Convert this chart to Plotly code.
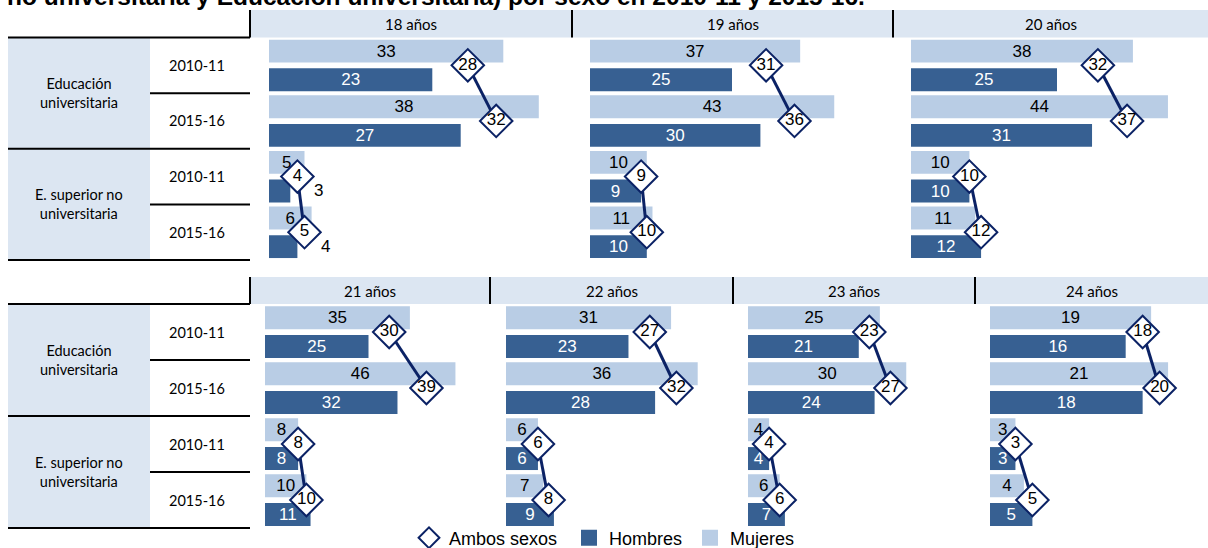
import plotly.graph_objects as go

W, H = 1208, 548

# ---------------- data ----------------
ages = ["18 años", "19 años", "20 años", "21 años", "22 años", "23 años", "24 años"]
rows = ["EU 2010-11", "EU 2015-16", "ESNU 2010-11", "ESNU 2015-16"]
row_years = ["2010-11", "2015-16", "2010-11", "2015-16"]
groups = ["Educación<br>universitaria", "E. superior no<br>universitaria"]

mujeres = [
    [33, 38, 5, 6],
    [37, 43, 10, 11],
    [38, 44, 10, 11],
    [35, 46, 8, 10],
    [31, 36, 6, 7],
    [25, 30, 4, 6],
    [19, 21, 3, 4],
]
hombres = [
    [23, 27, 3, 4],
    [25, 30, 9, 10],
    [25, 31, 10, 12],
    [25, 32, 8, 11],
    [23, 28, 6, 9],
    [21, 24, 4, 7],
    [16, 18, 3, 5],
]
ambos = [
    [28, 32, 4, 5],
    [31, 36, 9, 10],
    [32, 37, 10, 12],
    [30, 39, 8, 10],
    [27, 32, 6, 8],
    [23, 27, 4, 6],
    [18, 20, 3, 5],
]
axis_max = [40, 50, 50, 50, 40, 40, 25]

# ---------------- layout geometry (pixels) ----------------
panel_x = [(269, 284), (590, 284), (911, 292), (265, 207), (506, 213), (748, 211), (990, 212)]
top_block = (37.5, 260)
bot_block = (304, 528)
top_hdr = (10, 37.5)
bot_hdr = (277, 304)
top_seps = [250, 572, 893]
bot_seps = [250, 490, 733, 975]

C_MUJ = "#B9CDE5"
C_HOM = "#376092"
C_AMB = "#0B2265"
C_BAND = "#DCE6F2"
NUM_FONT = "Arial, Liberation Sans, sans-serif"
LBL_FONT = "Lato, Calibri, sans-serif"
NFS = 17


def fx(px):
    return px / W


def fy(py):
    return 1 - py / H


fig = go.Figure()
layout = {}
annotations = []

for i in range(7):
    xa = "x" if i == 0 else f"x{i+1}"
    ya = "y" if i == 0 else f"y{i+1}"
    x0, w = panel_x[i]
    blk = top_block if i < 3 else bot_block
    layout["xaxis" if i == 0 else f"xaxis{i+1}"] = dict(
        domain=[fx(x0), fx(x0 + w)], range=[0, axis_max[i]], anchor=ya,
        visible=False, showgrid=False, zeroline=False, fixedrange=True)
    layout["yaxis" if i == 0 else f"yaxis{i+1}"] = dict(
        domain=[fy(blk[1]), fy(blk[0])], type="category",
        categoryorder="array", categoryarray=rows, range=[3.5, -0.5],
        anchor=xa, visible=False, showgrid=False, zeroline=False, fixedrange=True)

    fig.add_trace(go.Bar(
        x=mujeres[i], y=rows, orientation="h", xaxis=xa, yaxis=ya,
        name="Mujeres", marker=dict(color=C_MUJ, line=dict(width=0)),
        width=0.41, offset=-0.46,
        text=[str(v) for v in mujeres[i]], textposition="inside",
        insidetextanchor="middle", textangle=0, constraintext="none",
        insidetextfont=dict(family=NUM_FONT, size=NFS, color="black"),
        showlegend=False, hoverinfo="skip"))

    hpos = ["inside"] * 4
    if i == 0:
        # the two smallest male values are labelled outside the bar, to the right
        hpos = ["inside", "inside", "none", "none"]
        for r in (2, 3):
            annotations.append(dict(
                xref=xa, yref=ya, x=hombres[i][r], y=rows[r], xanchor="left",
                xshift=22, yshift=-14, showarrow=False, text=str(hombres[i][r]),
                font=dict(family=NUM_FONT, size=NFS, color="black")))
    fig.add_trace(go.Bar(
        x=hombres[i], y=rows, orientation="h", xaxis=xa, yaxis=ya,
        name="Hombres", marker=dict(color=C_HOM, line=dict(width=0)),
        width=0.41, offset=0.055,
        text=[str(v) for v in hombres[i]], textposition=hpos,
        insidetextanchor="middle", textangle=0, constraintext="none",
        insidetextfont=dict(family=NUM_FONT, size=NFS, color="white"),
        showlegend=False, hoverinfo="skip"))

    ax = ambos[i][:2] + [None] + ambos[i][2:]
    ay = rows[:2] + [None] + rows[2:]
    fig.add_trace(go.Scatter(
        x=ax, y=ay, xaxis=xa, yaxis=ya, mode="lines+markers+text",
        line=dict(color=C_AMB, width=3), connectgaps=False,
        marker=dict(symbol="diamond", size=25, color="white",
                    line=dict(color=C_AMB, width=2)),
        text=[("" if v is None else str(v)) for v in ax],
        textposition="middle center",
        textfont=dict(family=NUM_FONT, size=NFS, color="black"),
        showlegend=False, cliponaxis=False, hoverinfo="skip"))

# legend entries (each in its own legend box so spacing matches)
fig.add_trace(go.Scatter(
    x=[None], y=[None], mode="markers", name="Ambos sexos", legend="legend",
    marker=dict(symbol="diamond", size=16, color="white",
                line=dict(color=C_AMB, width=2)), showlegend=True))
fig.add_trace(go.Scatter(
    x=[None], y=[None], mode="markers", name="Hombres", legend="legend2",
    marker=dict(symbol="square", size=16, color=C_HOM, line=dict(width=0)),
    showlegend=True))
fig.add_trace(go.Scatter(
    x=[None], y=[None], mode="markers", name="Mujeres", legend="legend3",
    marker=dict(symbol="square", size=16, color=C_MUJ, line=dict(width=0)),
    showlegend=True))

shapes = []


def hline(x0, x1, y, wdt=2):
    shapes.append(dict(type="line", xref="paper", yref="paper",
                       x0=fx(x0), x1=fx(x1), y0=fy(y), y1=fy(y),
                       line=dict(color="black", width=wdt)))


def vline(x, y0, y1, wdt=2):
    shapes.append(dict(type="line", xref="paper", yref="paper",
                       x0=fx(x), x1=fx(x), y0=fy(y0), y1=fy(y1),
                       line=dict(color="black", width=wdt)))


def rect(x0, x1, y0, y1, col):
    shapes.append(dict(type="rect", xref="paper", yref="paper",
                       x0=fx(x0), x1=fx(x1), y0=fy(y1), y1=fy(y0),
                       fillcolor=col, line=dict(width=0), layer="below"))


def text(x, y, s, size=14.5, font=LBL_FONT, bold=False, xanchor="center"):
    annotations.append(dict(xref="paper", yref="paper", x=fx(x), y=fy(y),
                            text=(f"<b>{s}</b>" if bold else s), showarrow=False,
                            xanchor=xanchor, yanchor="middle",
                            font=dict(family=font, size=size, color="black")))


for (hdr, blk, seps, ages_blk) in [
        (top_hdr, top_block, top_seps, ages[:3]),
        (bot_hdr, bot_block, bot_seps, ages[3:])]:
    rect(seps[0], W, hdr[0], hdr[1], C_BAND)
    for s in seps:
        vline(s, hdr[0], hdr[1])
    ends = seps[1:] + [W]
    for a, s0, s1 in zip(ages_blk, seps, ends):
        text((s0 + s1) / 2, (hdr[0] + hdr[1]) / 2, a, size=15)
    top, bot = blk
    rh = (bot - top) / 4
    rect(8, 150, top, bot, C_BAND)
    hline(8, 250, top)
    hline(150, 250, top + rh)
    hline(8, 250, top + 2 * rh)
    hline(150, 250, top + 3 * rh)
    hline(8, 250, bot)
    for r in range(4):
        text(197, top + rh * (r + 0.5), row_years[r])
    text(79, top + rh, groups[0])
    text(79, top + 3 * rh, groups[1])

# clipped title at the very top
annotations.append(dict(
    xref="paper", yref="paper", x=fx(5), y=fy(-3), xanchor="left", yanchor="middle",
    text="<b>no universitaria y Educación universitaria) por sexo en 2010-11 y 2015-16.</b>",
    showarrow=False, font=dict(family=NUM_FONT, size=24.5, color="black")))


def leg(x_sym):
    return dict(orientation="h", x=fx(x_sym - 20), xanchor="left", y=fy(538), yanchor="middle",
                font=dict(family=NUM_FONT, size=18, color="black"),
                bgcolor="rgba(0,0,0,0)", itemwidth=30)


fig.update_layout(
    width=W, height=H, margin=dict(l=0, r=0, t=0, b=0, autoexpand=False),
    paper_bgcolor="white", plot_bgcolor="rgba(0,0,0,0)",
    barmode="overlay",
    shapes=shapes, annotations=annotations,
    showlegend=True,
    legend=leg(429), legend2=leg(589), legend3=leg(710),
    **layout)

fig.write_html("out.html", config={"displayModeBar": False},
               post_script="document.body.style.margin='0';document.body.style.overflow='hidden';")
